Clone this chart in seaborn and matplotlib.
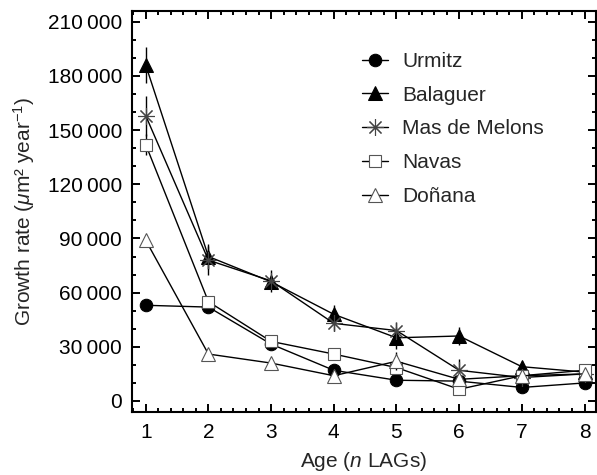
import seaborn as sns
import matplotlib.pyplot as plt
from matplotlib.ticker import MultipleLocator, FuncFormatter

age = [1, 2, 3, 4, 5, 6, 7, 8]

urmitz = [53000, 52000, 31500, 17000, 11500, 11000, 7500, 10000]
balaguer = [186000, 80000, 66000, 48000, 35000, 36000, 19000, 16000]
mas_de_melons = [158000, 78000, 66500, 43000, 39000, 17000, 13000, 15000]
navas = [142000, 55000, 33000, 26000, 18500, 6500, 14000, 17000]
donana = [89000, 26000, 21000, 14000, 22000, 12000, 14000, 15000]

balaguer_err = [10000, 7000, 4000, 5000, 6000, 5000, 3000, 0]
mas_err = [11000, 8000, 6000, 4000, 5000, 6000, 3000, 5000]
navas_err = [6000, 2000, 1500, 2000, 2000, 2000, 2000, 3000]
donana_err = [2000, 1500, 1500, 1500, 5000, 2000, 2000, 2000]
urmitz_err = [1500, 1500, 1500, 1500, 1500, 1500, 1500, 1500]

sns.set_theme(style="ticks")
plt.rcParams['font.family'] = ['Liberation Sans', 'DejaVu Sans']
plt.rcParams['mathtext.fontset'] = 'custom'
plt.rcParams['mathtext.it'] = 'Liberation Sans:italic'
plt.rcParams['mathtext.rm'] = 'Liberation Sans'

fig = plt.figure(figsize=(5.97, 4.75), dpi=100)
ax = fig.add_axes([0.221, 0.1326, 0.777, 0.8444])

series = [
    ("Urmitz", urmitz, urmitz_err, dict(marker="o", markersize=9, markerfacecolor="black",
                                         markeredgecolor="black")),
    ("Balaguer", balaguer, balaguer_err, dict(marker="^", markersize=10.5, markerfacecolor="black",
                                              markeredgecolor="black")),
    ("Mas de Melons", mas_de_melons, mas_err, dict(marker=(8, 2, 0), markersize=12,
                                                   markerfacecolor="none", markeredgecolor="#444444",
                                                   markeredgewidth=0.8)),
    ("Navas", navas, navas_err, dict(marker="s", markersize=8.5, markerfacecolor="white",
                                     markeredgecolor="#555555", markeredgewidth=0.8)),
    ("Doñana", donana, donana_err, dict(marker="^", markersize=10, markerfacecolor="white",
                                        markeredgecolor="#555555", markeredgewidth=0.8)),
]

for name, vals, err, style in series:
    ax.errorbar(age, vals, yerr=err, fmt="none", ecolor="black", elinewidth=1.0, capsize=0)
    sns.lineplot(x=age, y=vals, ax=ax, color="black", linewidth=1.0, label=name, **style)

ax.set_xlim(0.78, 8.18)
ax.set_ylim(-6100, 216000)
ax.xaxis.set_major_locator(MultipleLocator(1))
ax.xaxis.set_minor_locator(MultipleLocator(0.2))
ax.yaxis.set_major_locator(MultipleLocator(30000))
ax.yaxis.set_minor_locator(MultipleLocator(10000))
ax.yaxis.set_major_formatter(FuncFormatter(lambda v, p: f"{int(v):,}".replace(",", "\u2009")))

for s in ax.spines.values():
    s.set_linewidth(1.5)
    s.set_color("black")
ax.tick_params(which="both", direction="in", top=True, right=True, colors="black",
               labelsize=15, width=1.4)
ax.tick_params(which="major", length=5.5)
ax.tick_params(axis="x", which="major", pad=8)
ax.tick_params(axis="y", which="major", pad=7)
ax.tick_params(which="minor", length=3)

ax.set_xlabel("Age ($n$ LAGs)", fontsize=15, labelpad=6)
ax.set_ylabel("Growth rate ($\\mu$m² year$^{-1}$)", fontsize=15, labelpad=8)

ax.legend(loc="upper left", bbox_to_anchor=(0.496, 0.898), frameon=False, fontsize=15,
          labelspacing=0.71, handlelength=1.25, handletextpad=0.67,
          borderaxespad=0, borderpad=0)

fig.savefig("out.png", dpi=100)
